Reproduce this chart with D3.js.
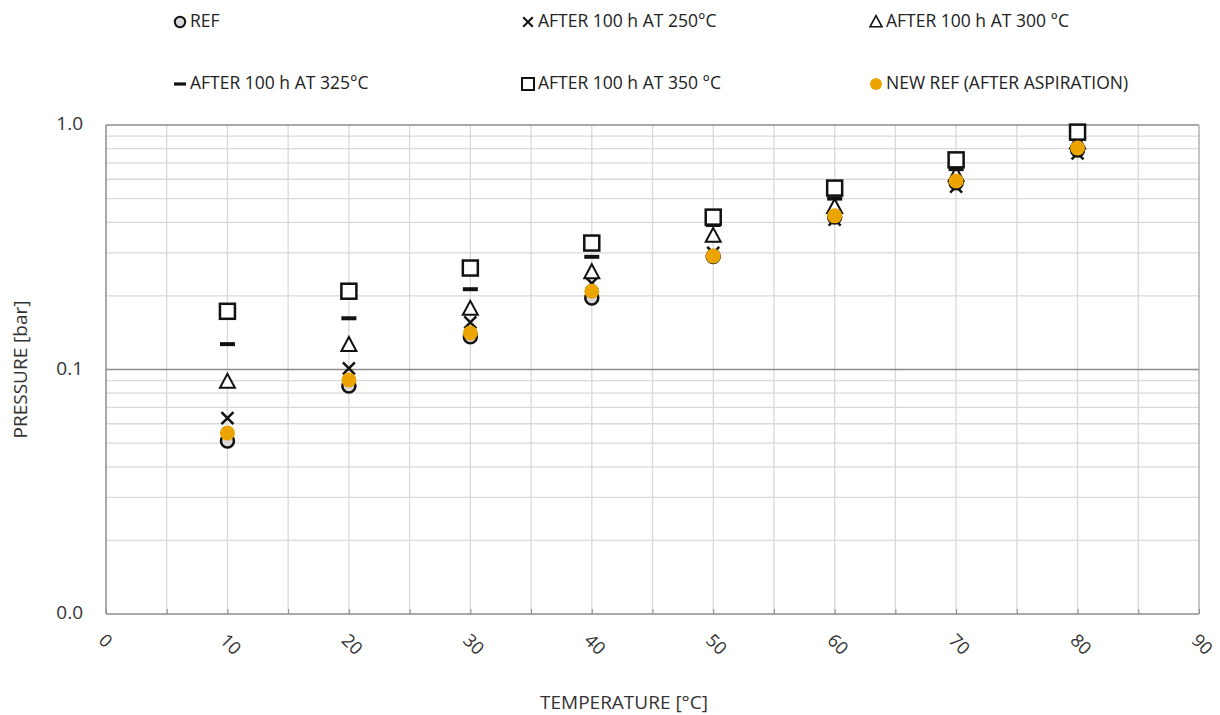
<!DOCTYPE html>
<html>
<head>
<meta charset="utf-8">
<script src="https://cdn.jsdelivr.net/npm/d3@7"></script>
<style>
  body { margin: 0; background: #fff; }
  svg { display: block; }
</style>
</head>
<body>
<div class="chart"></div>
<script>
// temperatures (x) and pressure series (bar)
var temps = [10, 20, 30, 40, 50, 60, 70, 80];
var refVals   = [0.051, 0.0856, 0.136, 0.196, 0.290, 0.420, 0.580, 0.790];
var t250Vals  = [0.0633, 0.101, 0.156, 0.225, 0.300, 0.410, 0.560, 0.765];
var t300Vals  = [0.089, 0.126, 0.177, 0.250, 0.352, 0.462, 0.625, 0.850];
var t325Vals  = [0.127, 0.162, 0.213, 0.289, 0.390, 0.500, 0.660, 0.880];
var t350Vals  = [0.173, 0.209, 0.260, 0.329, 0.420, 0.552, 0.720, 0.935];
var newRefVals = [0.055, 0.0906, 0.141, 0.209, 0.291, 0.425, 0.590, 0.805];

var seriesNames = ['REF', 'AFTER 100 h AT 250°C', 'AFTER 100 h AT 300 °C',
                   'AFTER 100 h AT 325°C', 'AFTER 100 h AT 350 °C', 'NEW REF (AFTER ASPIRATION)'];
var seriesMarks = ['circle', 'cross', 'triangle', 'dash', 'square', 'dot'];
var seriesVals = [refVals, t250Vals, t300Vals, t325Vals, t350Vals, newRefVals];

var xTicks = [0, 10, 20, 30, 40, 50, 60, 70, 80, 90];
var yTicks = [0.01, 0.1, 1];
var yTickLabels = ['0.0', '0.1', '1.0'];

const W = 1220, H = 715;
var margin = {top: 125, right: 21, bottom: 101, left: 106};

var svg = d3.select('.chart')
            .append('svg')
            .attr('width', W)
            .attr('height', H);

var x = d3.scaleLinear().domain([0, 90]).range([margin.left, W - margin.right]);
var y = d3.scaleLog().domain([0.01, 1]).range([H - margin.bottom, margin.top]);

// vertical grid every 5
var grid = svg.append('g').attr('class', 'grid');
grid.selectAll('.vgrid')
    .data(d3.range(5, 90, 5))
    .enter().append('line')
    .attr('x1', d => x(d)).attr('x2', d => x(d))
    .attr('y1', y(1)).attr('y2', y(0.01))
    .attr('stroke', '#d9d9d9').attr('stroke-width', 1.3);

// minor horizontal grid
var minorY = [];
[0.01, 0.1].forEach(dec => { for (var k = 2; k <= 9; k++) minorY.push(dec * k); });
grid.selectAll('.hgrid')
    .data(minorY)
    .enter().append('line')
    .attr('x1', x(0)).attr('x2', x(90))
    .attr('y1', d => y(d)).attr('y2', d => y(d))
    .attr('stroke', '#d9d9d9').attr('stroke-width', 1.3);

// major horizontal lines
grid.selectAll('.hmajor')
    .data(yTicks)
    .enter().append('line')
    .attr('x1', x(0)).attr('x2', x(90))
    .attr('y1', d => y(d)).attr('y2', d => y(d))
    .attr('stroke', '#8c8c8c').attr('stroke-width', 1.5);

// left and right borders
grid.append('line')
    .attr('x1', x(0)).attr('x2', x(0)).attr('y1', y(1)).attr('y2', y(0.01))
    .attr('stroke', '#8c8c8c').attr('stroke-width', 1.5);
grid.append('line')
    .attr('x1', x(90)).attr('x2', x(90)).attr('y1', y(1)).attr('y2', y(0.01))
    .attr('stroke', '#a6a6a6').attr('stroke-width', 1.3);

// x ticks (small, every 5)
var xAxis = d3.axisBottom(x).tickValues(d3.range(0, 95, 5)).tickSize(-5).tickFormat('');
svg.append('g')
    .attr('transform', `translate(0, ${y(0.01)})`)
    .call(xAxis)
    .call(g => g.select('.domain').remove())
    .call(g => g.selectAll('line').attr('stroke', '#8c8c8c'));

// x tick labels, rotated
svg.append('g').selectAll('text')
    .data(xTicks)
    .enter().append('text')
    .attr('transform', d => `translate(${x(d) - 5}, 638) rotate(45)`)
    .attr('text-anchor', 'start')
    .attr('dominant-baseline', 'middle')
    .style('font-family', 'Open Sans')
    .style('font-size', '18px')
    .style('fill', '#333')
    .text(d => d);

// y tick labels
svg.append('g').selectAll('text')
    .data(yTicks)
    .enter().append('text')
    .attr('x', 83)
    .attr('y', d => y(d))
    .attr('text-anchor', 'end')
    .attr('dominant-baseline', 'middle')
    .style('font-family', 'Open Sans')
    .style('font-size', '19px')
    .style('fill', '#333')
    .text((d, i) => yTickLabels[i]);

// axis titles
svg.append('text')
    .attr('x', 624).attr('y', 704)
    .attr('text-anchor', 'middle')
    .attr('dominant-baseline', 'middle')
    .style('font-family', 'Open Sans')
    .style('font-size', '19px')
    .style('fill', '#333')
    .text('TEMPERATURE [°C]');

svg.append('text')
    .attr('transform', `translate(22, ${y(0.1)}) rotate(-90)`)
    .attr('text-anchor', 'middle')
    .attr('dominant-baseline', 'middle')
    .style('font-family', 'Open Sans')
    .style('font-size', '19px')
    .style('fill', '#333')
    .text('PRESSURE [bar]');

// marker drawing
function drawMark(g, type) {
    if (type === 'circle') {
        g.append('circle').attr('r', 6.5)
            .attr('fill', '#d9d9d9').attr('stroke', '#111').attr('stroke-width', 2.5);
    } else if (type === 'cross') {
        g.append('path').attr('d', 'M-6,-6L6,6M-6,6L6,-6')
            .attr('stroke', '#111').attr('stroke-width', 2.5).attr('fill', 'none');
    } else if (type === 'triangle') {
        g.append('path').attr('d', 'M0,-8L7.5,6L-7.5,6Z')
            .attr('stroke', '#111').attr('stroke-width', 2).attr('fill', '#fff');
    } else if (type === 'dash') {
        g.append('rect').attr('x', -7.5).attr('y', -2).attr('width', 15).attr('height', 4)
            .attr('fill', '#111');
    } else if (type === 'square') {
        g.append('rect').attr('x', -7.5).attr('y', -7.5).attr('width', 15).attr('height', 15)
            .attr('stroke', '#111').attr('stroke-width', 2.5).attr('fill', '#fff');
    } else if (type === 'dot') {
        g.append('circle').attr('r', 7.5).attr('fill', '#eba400');
    }
}

// series points
seriesVals.forEach((vals, s) => {
    var pts = svg.append('g').attr('class', 'series')
        .selectAll('g')
        .data(vals)
        .enter().append('g')
        .attr('transform', (d, i) => `translate(${x(temps[i])}, ${y(d)})`);
    pts.each(function() { drawMark(d3.select(this), seriesMarks[s]); });
});

// legend
var legCols = [180, 528, 876];
var legRows = [22, 84];
var legend = svg.append('g').attr('class', 'legend')
    .selectAll('g')
    .data(seriesNames)
    .enter().append('g')
    .attr('transform', (d, i) => `translate(${legCols[i % 3]}, ${legRows[Math.floor(i / 3)]})`);

legend.each(function(d, i) {
    var g = d3.select(this).append('g').attr('transform', 'scale(0.8)');
    drawMark(g, seriesMarks[i]);
});
legend.append('text')
    .attr('x', 10)
    .attr('y', 0)
    .attr('dominant-baseline', 'middle')
    .style('font-family', 'Open Sans')
    .style('font-size', '17.5px')
    .style('fill', '#222')
    .text(d => d);
</script>
</body>
</html>
